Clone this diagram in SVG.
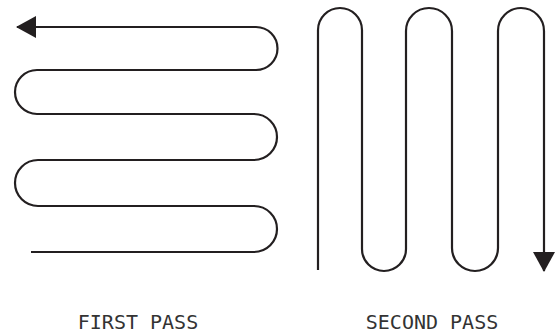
<svg xmlns="http://www.w3.org/2000/svg" width="556" height="333" viewBox="0 0 556 333">
<style>
.path{fill:none;stroke:#231f20;stroke-width:2.2;stroke-linecap:butt;stroke-linejoin:round}
.label{font-family:"DejaVu Sans Mono","Liberation Mono",monospace;font-size:20px;fill:#333;text-anchor:middle}
</style>
<defs>
<marker id="arrow" viewBox="0 0 20 22" markerWidth="20" markerHeight="22" refX="19" refY="11" orient="auto" markerUnits="userSpaceOnUse">
<path d="M0,0 L20,11 L0,22 z" fill="#231f20"/>
</marker>
</defs>
<rect width="556" height="333" fill="#fff"/>
<g id="connectors">
<path id="first-pass" class="path" marker-end="url(#arrow)" d="M 31 252 H 254 A 23 23 0 0 0 254 206 H 38 A 23 23 0 0 1 38 160 H 254 A 23 23 0 0 0 254 114 H 37 A 22 22 0 0 1 37 70 H 256 A 21.5 21.5 0 0 0 256 27 H 17"/>
<path id="second-pass" class="path" marker-end="url(#arrow)" d="M 318 270 V 30 A 22 22 0 0 1 362 30 V 249 A 22 22 0 0 0 406 249 V 31 A 23 23 0 0 1 452 31 V 248 A 23 23 0 0 0 498 248 V 31 A 23 23 0 0 1 544 31 V 271"/>
</g>
<g id="label-first"><text class="label" x="138" y="329">FIRST PASS</text></g>
<g id="label-second"><text class="label" x="432" y="329">SECOND PASS</text></g>
</svg>
